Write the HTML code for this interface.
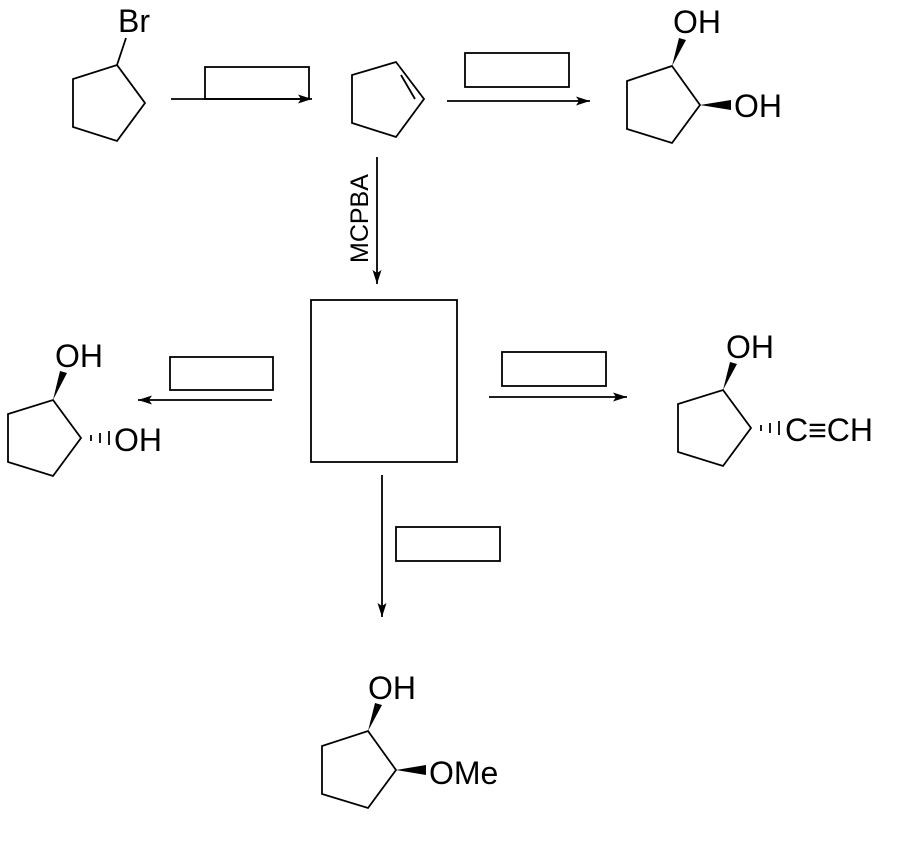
<!DOCTYPE html>
<html><head><meta charset="utf-8"><style>
html,body{margin:0;padding:0;background:#fff;width:913px;height:844px;overflow:hidden}
svg{display:block}
text{font-family:"Liberation Sans",Arial,sans-serif;fill:#000}
</style></head><body>
<svg width="913" height="844" viewBox="0 0 913 844" xmlns="http://www.w3.org/2000/svg">
<defs>
<marker id="ah" markerWidth="14" markerHeight="9" refX="14" refY="4.5" orient="auto" markerUnits="userSpaceOnUse">
<path d="M0,0 L14,4.5 L0,9 L3,4.5 Z" fill="#000"/></marker>
</defs>
<g stroke="#000" stroke-width="1.8" fill="none">
<polygon points="117,65 145,103 117,141 73,127 73,79"/>
<line x1="117" y1="65" x2="126" y2="38"/>
<rect x="205" y="67" width="104" height="32"/>
<line x1="171" y1="99" x2="312" y2="99" marker-end="url(#ah)"/>
<polygon points="396,62 424,99 396,137 352,123 352,75"/>
<line x1="401" y1="75" x2="415" y2="99"/>
<rect x="465" y="53" width="104" height="34"/>
<line x1="447" y1="101" x2="590" y2="101" marker-end="url(#ah)"/>
<polygon points="672,66 700,105 672,143 627,129 627,81"/>
<line x1="377" y1="157" x2="377" y2="284" marker-end="url(#ah)"/>
<rect x="311" y="300" width="146" height="162"/>
<rect x="170" y="357" width="103" height="33"/>
<line x1="272" y1="400" x2="138" y2="400" marker-end="url(#ah)"/>
<polygon points="53,400 81,438 53,476 8,462 8,414"/>
<rect x="502" y="352" width="104" height="34"/>
<line x1="489" y1="397" x2="627" y2="397" marker-end="url(#ah)"/>
<polygon points="723,390 751,428 723,466 678,452 678,404"/>
<rect x="396" y="527" width="104" height="34"/>
<line x1="382" y1="475" x2="382" y2="617" marker-end="url(#ah)"/>
<polygon points="368,731 396,770 368,808 322,794 322,746"/>
</g>
<g fill="#000">
<polygon points="672,66 679,38 686,40"/>
<polygon points="700,105 731,100 731,110"/>
<polygon points="53,400 60,371 67,373"/>
<polygon points="723,390 730,362 737,364"/>
<polygon points="368,731 375,703 382,705"/>
<polygon points="396,770 426,765 426,775"/>
</g>
<g stroke="#000" stroke-width="1.8">
<line x1="91" y1="435" x2="91" y2="441"/><line x1="100" y1="433" x2="100" y2="443"/><line x1="109" y1="431" x2="109" y2="445"/>
<line x1="761" y1="425" x2="761" y2="431"/><line x1="770" y1="423" x2="770" y2="433"/><line x1="779" y1="421" x2="779" y2="435"/>
</g>
<g font-size="32">
<text x="118" y="32">Br</text>
<text x="673" y="33">OH</text>
<text x="734" y="117">OH</text>
<text x="55" y="367">OH</text>
<text x="114" y="451">OH</text>
<text x="726" y="358">OH</text>
<text x="785" y="441">C≡CH</text>
<text x="368" y="699">OH</text>
<text x="429" y="784">OMe</text>
</g>
<text x="0" y="0" font-size="25" transform="translate(368,263) rotate(-90)">MCPBA</text>
</svg>
</body></html>
